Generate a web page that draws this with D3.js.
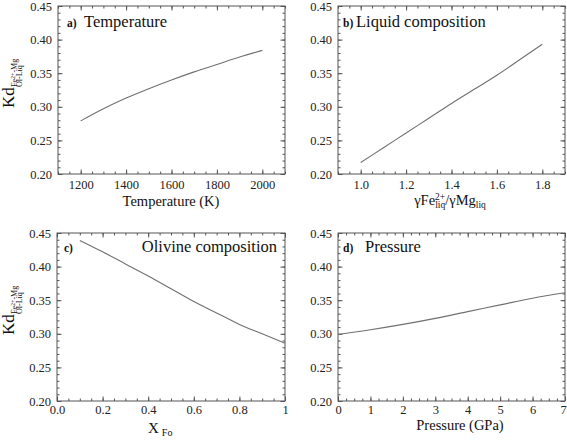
<!DOCTYPE html>
<html><head><meta charset="utf-8">
<script src="https://cdn.jsdelivr.net/npm/d3@7"></script>
<style>body{margin:0;background:#fff;}</style>
</head>
<body><svg id="c" width="567" height="440"></svg>
<script>
// ---- data ----
const tempX = [1200,1300,1400,1500,1600,1700,1800,1900,2000];
const tempKd = [0.279,0.297,0.313,0.327,0.340,0.352,0.363,0.374,0.384];
const liqX = [1.0,1.1,1.2,1.3,1.4,1.5,1.6,1.7,1.8];
const liqKd = [0.217,0.239,0.261,0.283,0.305,0.326,0.347,0.370,0.393];
const olX = [0.1,0.2,0.3,0.4,0.5,0.6,0.7,0.8,0.9,1.0];
const olKd = [0.439,0.422,0.404,0.386,0.367,0.348,0.331,0.314,0.300,0.286];
const pX = [0,1,2,3,4,5,6,7];
const pKd = [0.299,0.306,0.314,0.323,0.333,0.343,0.353,0.361];

const yTicks = [0.20,0.25,0.30,0.35,0.40,0.45];
const yTickLabels = ["0.20","0.25","0.30","0.35","0.40","0.45"];
const tempTicks = [1200,1400,1600,1800,2000];
const tempTickLabels = ["1200","1400","1600","1800","2000"];
const liqTicks = [1.0,1.2,1.4,1.6,1.8];
const liqTickLabels = ["1.0","1.2","1.4","1.6","1.8"];
const olTicks = [0,0.2,0.4,0.6,0.8,1];
const olTickLabels = ["0.0","0.2","0.4","0.6","0.8","1"];
const pTicks = [0,1,2,3,4,5,6,7];
const pTickLabels = ["0","1","2","3","4","5","6","7"];

const FONT = "Liberation Serif";
const svg = d3.select("#c").attr("font-family",FONT);
const frameCol = "#555", lineCol = "#707070", textCol = "#222";

function range(a,b,s){const r=[];for(let v=a;v<=b+1e-9;v+=s)r.push(+v.toFixed(6));return r;}

const panels = [
  {x0:58,x1:285,y0:6,y1:174,dom:[1100,2100],xs:tempX,ys:tempKd,ticks:tempTicks,labels:tempTickLabels,minor:range(1100,2100,50),
   letter:"a)",title:"Temperature",tx:67,ty:27,titleX:84,anchor:"start",pad:6},
  {x0:338,x1:565,y0:6,y1:174,dom:[0.9,1.9],xs:liqX,ys:liqKd,ticks:liqTicks,labels:liqTickLabels,minor:range(0.9,1.9,0.05),
   letter:"b)",title:"Liquid composition",tx:343,ty:27,titleX:356,anchor:"start",pad:6},
  {x0:57,x1:285,y0:233,y1:401,dom:[0,1],xs:olX,ys:olKd,ticks:olTicks,labels:olTickLabels,minor:range(0,1,0.05),
   letter:"c)",title:"Olivine composition",tx:64,ty:252,titleX:277,anchor:"end",pad:4.5},
  {x0:338,x1:565,y0:233,y1:401,dom:[0,7],xs:pX,ys:pKd,ticks:pTicks,labels:pTickLabels,minor:range(0,7,0.25),
   letter:"d)",title:"Pressure",tx:343,ty:252,titleX:365,anchor:"start",pad:4.5}
];

panels.forEach((p,i)=>{
  const x = d3.scaleLinear().domain(p.dom).range([p.x0,p.x1]);
  const y = d3.scaleLinear().domain([0.20,0.45]).range([p.y1,p.y0]);
  const g = svg.append("g");

  const styleAxis = sel => {
    sel.attr("font-family",FONT).attr("font-size",12.5);
    sel.select(".domain").remove();
    sel.selectAll("line").attr("stroke",frameCol);
    sel.selectAll("text").attr("fill",textCol).attr("font-family",FONT);
  };

  // minor ticks
  g.append("g").attr("transform",`translate(0,${p.y1})`).call(d3.axisBottom(x).tickValues(p.minor).tickSize(-2.5).tickFormat("")).call(styleAxis);
  g.append("g").attr("transform",`translate(0,${p.y0})`).call(d3.axisTop(x).tickValues(p.minor).tickSize(-2.5).tickFormat("")).call(styleAxis);
  const yMinor = range(0.20,0.45,0.01);
  g.append("g").attr("transform",`translate(${p.x0},0)`).call(d3.axisLeft(y).tickValues(yMinor).tickSize(-2.5).tickFormat("")).call(styleAxis);
  g.append("g").attr("transform",`translate(${p.x1},0)`).call(d3.axisRight(y).tickValues(yMinor).tickSize(-2.5).tickFormat("")).call(styleAxis);

  // major ticks with labels
  const xb = g.append("g").attr("transform",`translate(0,${p.y1})`)
    .call(d3.axisBottom(x).tickValues(p.ticks).tickSize(-4.5).tickPadding(p.pad).tickFormat((d,k)=>p.labels[k])).call(styleAxis);
  if (p.x1 > 560) xb.selectAll("text").filter(d=>d===p.dom[1]).attr("dx",-2);
  g.append("g").attr("transform",`translate(0,${p.y0})`).call(d3.axisTop(x).tickValues(p.ticks).tickSize(-4.5).tickFormat("")).call(styleAxis);
  g.append("g").attr("transform",`translate(${p.x0},0)`)
    .call(d3.axisLeft(y).tickValues(yTicks).tickSize(-4.5).tickPadding(6).tickFormat((d,k)=>yTickLabels[k])).call(styleAxis);
  g.append("g").attr("transform",`translate(${p.x1},0)`).call(d3.axisRight(y).tickValues(yTicks).tickSize(-4.5).tickFormat("")).call(styleAxis);

  // frame
  g.append("rect").attr("x",p.x0).attr("y",p.y0).attr("width",p.x1-p.x0).attr("height",p.y1-p.y0)
    .attr("fill","none").attr("stroke",frameCol).attr("stroke-width",1);

  // line
  const data = p.xs.map((v,k)=>[v,p.ys[k]]);
  g.append("path").datum(data).attr("fill","none").attr("stroke",lineCol).attr("stroke-width",1.1)
    .attr("d",d3.line().x(d=>x(d[0])).y(d=>y(d[1])).curve(d3.curveMonotoneX));

  // title
  g.append("text").attr("x",p.tx).attr("y",p.ty).attr("font-weight","bold").attr("font-size",11.5).attr("fill","#111").text(p.letter);
  g.append("text").attr("x",p.titleX).attr("y",p.ty).attr("text-anchor",p.anchor).attr("font-size",16.5).attr("fill","#111").text(p.title);

  // y-axis label on left panels
  if (i===0 || i===2){
    const off = p.y0 - 6;
    const yl = svg.append("g").attr("fill","#111");
    yl.append("text").attr("transform",`translate(14,${108+off}) rotate(-90)`).attr("font-size",17).text("Kd");
    const sup = yl.append("text").attr("transform",`translate(16.5,${87+off}) rotate(-90)`).attr("font-size",8);
    sup.append("tspan").text("Fe");
    sup.append("tspan").attr("font-size",6).attr("dy",-2).text("2+");
    sup.append("tspan").attr("dy",2).text("-Mg");
    yl.append("text").attr("transform",`translate(22,${87+off}) rotate(-90)`).attr("font-size",8).text("Ol-Liq");
  }
});

// x-axis titles
svg.append("text").attr("x",171).attr("y",206).attr("text-anchor","middle").attr("font-size",14.5).attr("fill","#111").text("Temperature (K)");
const bl = svg.append("text").attr("x",450).attr("y",205).attr("text-anchor","middle").attr("font-size",14.5).attr("fill","#111");
bl.append("tspan").text("γFe");
bl.append("tspan").attr("font-size",9.5).attr("dy",-5).text("2+");
bl.append("tspan").attr("font-size",9.5).attr("dy",8).attr("dx",-10).text("liq");
bl.append("tspan").attr("dy",-3).text("/γMg");
bl.append("tspan").attr("font-size",9.5).attr("dy",3).text("liq");
const cl = svg.append("text").attr("x",148).attr("y",433).attr("font-size",15).attr("fill","#111");
cl.append("tspan").text("X");
cl.append("tspan").attr("font-size",10).attr("dx",3).attr("dy",3).text("Fo");
svg.append("text").attr("x",460).attr("y",430).attr("text-anchor","middle").attr("font-size",14.5).attr("fill","#111").text("Pressure (GPa)");
</script></body></html>
